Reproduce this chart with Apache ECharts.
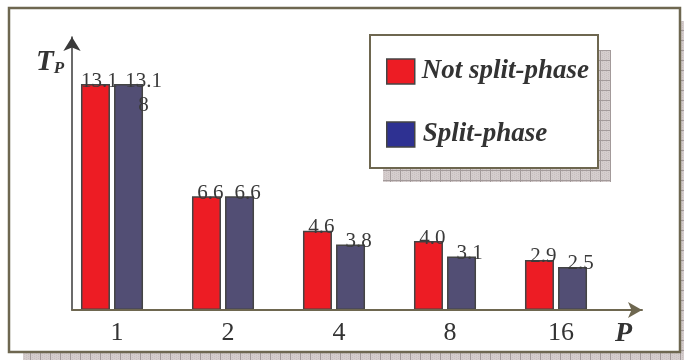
<!DOCTYPE html>
<html>
<head>
<meta charset="utf-8">
<script src="https://cdn.jsdelivr.net/npm/echarts@6/dist/echarts.min.js"></script>
<style>
html, body { margin: 0; padding: 0; background: #fff; }
#chart { width: 684px; height: 360px; }
</style>
</head>
<body>
<div id="chart"></div>
<script>
// data
var procs = ['1', '2', '4', '8', '16'];
var notSplit = [13.1, 6.6, 4.6, 4.0, 2.9];
var split = [13.1, 6.6, 3.8, 3.1, 2.5];
var splitLabels = ['13.1\n8', '6.6', '3.8', '3.1', '2.5'];
var seriesNames = ['Not split-phase', 'Split-phase'];

// hatched shadow tile
function makeHatch() {
    var c = document.createElement('canvas');
    c.width = 10; c.height = 10;
    var g = c.getContext('2d');
    g.fillStyle = '#d5cdcd';
    g.fillRect(0, 0, 10, 10);
    g.fillStyle = '#c8bfbf';
    for (var i = 0; i < 10; i += 2) {
        for (var j = (i / 2) % 2; j < 10; j += 2) g.fillRect(i, j, 1, 1);
    }
    g.fillStyle = '#a39a9a';
    g.fillRect(0, 0, 10, 1);
    g.fillRect(0, 0, 1, 10);
    return c;
}
var hatch = makeHatch();

var serif = '"Liberation Serif", "DejaVu Serif", serif';
var frameColor = '#6e6750';

var myChart = echarts.init(document.getElementById('chart'));
var option = {
    backgroundColor: '#fff',
    animation: false,
    graphic: [
        { type: 'rect', shape: { x: 23, y: 21, width: 672, height: 345 }, style: { fill: { image: hatch, repeat: 'repeat' } }, z: -10 },
        { type: 'rect', shape: { x: 9, y: 8, width: 671, height: 344 }, style: { fill: '#fff', stroke: frameColor, lineWidth: 2.5 }, z: -9 },
        { type: 'rect', shape: { x: 383, y: 50, width: 228, height: 132 }, style: { fill: { image: hatch, repeat: 'repeat' } }, z: -8 },
        { type: 'rect', shape: { x: 370, y: 35, width: 228, height: 133 }, style: { fill: '#fff', stroke: frameColor, lineWidth: 2 }, z: -7 },
        {
            type: 'text', left: 36, top: 48, z: 5,
            style: {
                text: '{t|T}{s|P}',
                rich: {
                    t: { fontFamily: serif, fontSize: 29, fontWeight: 'bold', fontStyle: 'italic', fill: '#333' },
                    s: { fontFamily: serif, fontSize: 17, fontWeight: 'bold', fontStyle: 'italic', fill: '#333', padding: [12, 0, 0, 0] }
                }
            }
        },
        {
            type: 'text', left: 615, top: 320, z: 5,
            style: { text: 'P', fontFamily: serif, fontSize: 28, fontWeight: 'bold', fontStyle: 'italic', fill: '#333' }
        }
    ],
    legend: {
        orient: 'vertical',
        left: 386,
        top: 58,
        padding: 0,
        itemWidth: 28,
        itemHeight: 25,
        itemGap: 36,
        selectedMode: false,
        textStyle: { fontFamily: serif, fontSize: 27, fontWeight: 'bold', fontStyle: 'italic', color: '#333', padding: [0, 0, 0, 2] },
        data: [
            { name: seriesNames[0], icon: 'rect', itemStyle: { color: '#ed1c24', borderColor: '#444', borderWidth: 1.5 } },
            { name: seriesNames[1], icon: 'rect', itemStyle: { color: '#2e3192', borderColor: '#444', borderWidth: 1.5 },
              textStyle: { padding: [12, 0, 0, 3] } }
        ]
    },
    grid: [
        { left: 56.5, right: 72.5, top: 68.5, bottom: 50 },
        { left: 72, right: 42, top: 37, bottom: 50 }
    ],
    xAxis: [
        {
            type: 'category',
            gridIndex: 0,
            z: 10,
            data: procs,
            axisLine: { show: false },
            axisTick: { show: false },
            axisLabel: { fontFamily: serif, fontSize: 26, color: '#333', margin: 10, padding: [0, 0, 0, 10] }
        },
        {
            type: 'value',
            gridIndex: 1,
            z: 10,
            min: 0, max: 1,
            axisLine: { show: true, symbol: ['none', 'arrow'], symbolSize: [12, 14], lineStyle: { color: frameColor, width: 2 } },
            axisTick: { show: false },
            axisLabel: { show: false },
            splitLine: { show: false }
        }
    ],
    yAxis: [
        { type: 'value', gridIndex: 0, min: 0, max: 14, show: false },
        {
            type: 'value',
            gridIndex: 1,
            z: 10,
            min: 0, max: 1,
            axisLine: { show: true, symbol: ['none', 'arrow'], symbolSize: [13, 14], lineStyle: { color: '#3a3a3a', width: 1.5 } },
            axisTick: { show: false },
            axisLabel: { show: false },
            splitLine: { show: false }
        }
    ],
    series: [
        {
            name: seriesNames[0],
            type: 'bar',
            barWidth: 29,
            barGap: '14%',
            itemStyle: { color: '#ed1c24', borderColor: '#444', borderWidth: 1.5 },
            label: {
                show: true,
                position: 'insideTop',
                distance: -15,
                offset: [4, 0],
                fontFamily: serif,
                fontSize: 21,
                lineHeight: 24,
                color: '#3a3a3a',
                formatter: function (p) { return p.value.toFixed(1); }
            },
            data: notSplit
        },
        {
            name: seriesNames[1],
            type: 'bar',
            barWidth: 29,
            itemStyle: { color: '#524e74', borderColor: '#444', borderWidth: 1.5 },
            label: {
                show: true,
                position: 'insideTop',
                distance: -15,
                offset: [8, 0],
                fontFamily: serif,
                fontSize: 21,
                lineHeight: 24,
                color: '#3a3a3a',
                formatter: function (p) { return splitLabels[p.dataIndex]; }
            },
            data: split.map(function (v, i) {
                return i === 0 ? { value: v, label: { offset: [15, 0] } } : v;
            })
        }
    ]
};
myChart.setOption(option);
</script>
</body>
</html>
